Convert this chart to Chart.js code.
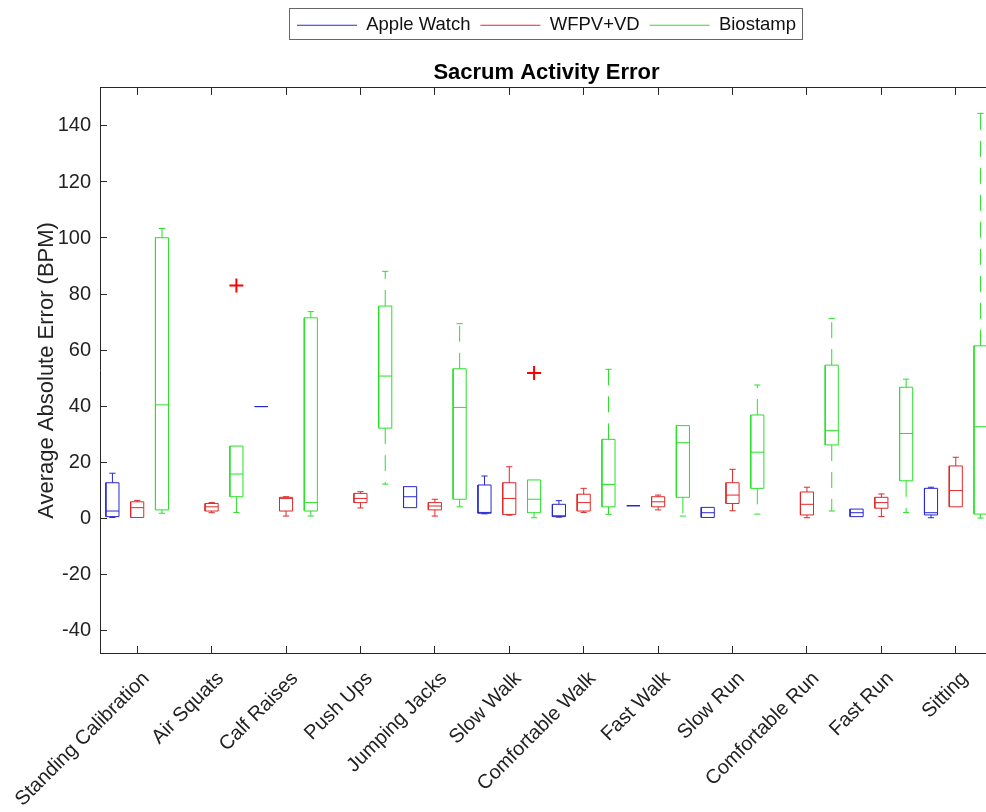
<!DOCTYPE html>
<html>
<head>
<meta charset="utf-8">
<script src="https://cdn.jsdelivr.net/npm/chart.js@4"></script>
<style>
  body { margin: 0; overflow: hidden; background: #fff; }
  #wrap { width: 994px; height: 812px; }
</style>
</head>
<body>
<div id="wrap"><canvas id="chart" width="994" height="812"></canvas></div>
<script>
const categories = ["Standing Calibration", "Air Squats", "Calf Raises", "Push Ups", "Jumping Jacks", "Slow Walk",
  "Comfortable Walk", "Fast Walk", "Slow Run", "Comfortable Run", "Fast Run", "Sitting"];
const yTicks = [-40, -20, 0, 20, 40, 60, 80, 100, 120, 140];

// Apple Watch: lower whisker, q1, median, q3, upper whisker
const watchLo  = [0.2, null, 39.8, null, 3.7, 1.5, 0.3, 4.4, 0.2, null, 0.5, 0.1];
const watchQ1  = [0.5, null, 39.8, null, 3.7, 1.7, 0.5, 4.4, 0.2, null, 0.5, 1.1];
const watchMed = [2.5, null, 39.8, null, 7.6, 2.0, 0.8, 4.4, 1.9, null, 1.9, 1.9];
const watchQ3  = [12.6, null, 39.8, null, 11.2, 11.8, 4.9, 4.4, 3.8, null, 3.2, 10.6];
const watchHi  = [16.0, null, 39.8, null, 11.2, 15.0, 6.2, 4.4, 3.8, null, 3.2, 11.0];

// WFPV+VD
const wfpvLo  = [0.2, 1.9, 0.7, 3.6, 0.7, 1.0, 2.0, 2.9, 2.6, 0.1, 0.5, 4.0];
const wfpvQ1  = [0.2, 2.5, 2.5, 5.5, 2.9, 1.3, 2.5, 4.0, 5.2, 1.1, 3.5, 4.0];
const wfpvMed = [3.7, 4.0, 7.0, 7.0, 4.3, 7.0, 5.5, 5.8, 8.2, 4.9, 5.5, 9.8];
const wfpvQ3  = [5.8, 5.2, 7.4, 8.8, 5.5, 12.6, 8.5, 7.6, 12.6, 9.3, 7.4, 18.6];
const wfpvHi  = [6.3, 5.5, 7.6, 9.4, 6.7, 18.3, 10.6, 8.2, 17.4, 11.0, 8.6, 21.7];
const wfpvOutlierCats = [1, 5];
const wfpvOutlierVals = [83.0, 51.8];

// Biostamp
const bioLo  = [1.7, 2.0, 0.7, 12.1, 4.0, 0.1, 1.3, 0.7, 1.4, 2.5, 2.0, 0.0];
const bioQ1  = [2.9, 7.6, 2.5, 32.1, 6.7, 1.9, 4.0, 7.4, 10.6, 26.1, 13.3, 1.4];
const bioMed = [40.4, 15.7, 5.5, 50.7, 39.5, 6.7, 12.0, 26.9, 23.5, 31.2, 30.2, 32.6];
const bioQ3  = [100.1, 25.7, 71.5, 75.7, 53.3, 13.6, 28.1, 33.0, 36.8, 54.6, 46.7, 61.5];
const bioHi  = [103.4, 25.7, 73.7, 88.1, 69.4, 13.6, 53.1, 33.0, 47.5, 71.3, 49.6, 144.5];

const BLUE = "rgb(40,40,210)";
const RED = "rgb(225,40,40)";
const GREEN = "rgb(40,225,40)";
const AXIS = "#262626";
const BOX_HALF = 0.088;
const CAP_HALF = 0.042;
const SHIFT = 0.333;

Chart.defaults.font.family = '"Liberation Sans", Arial, Helvetica, sans-serif';
Chart.defaults.color = "#222";

// turn five-number arrays into polyline point lists (null y = gap)
function boxParts(lo, q1, med, q3, hi, shift) {
  const boxes = [], medians = [], whiskers = [], caps = [];
  categories.forEach((c, i) => {
    if (q1[i] == null) return;
    const x = i + shift, l = x - BOX_HALF, r = x + BOX_HALF;
    boxes.push({x: l, y: q1[i]}, {x: r, y: q1[i]}, {x: r, y: q3[i]}, {x: l, y: q3[i]}, {x: l, y: q1[i]}, {x: l, y: null});
    medians.push({x: l, y: med[i]}, {x: r, y: med[i]}, {x: r, y: null});
    if (hi[i] > q3[i]) {
      whiskers.push({x: x, y: q3[i]}, {x: x, y: hi[i]}, {x: x, y: null});
      caps.push({x: x - CAP_HALF, y: hi[i]}, {x: x + CAP_HALF, y: hi[i]}, {x: x, y: null});
    }
    if (lo[i] < q1[i]) {
      whiskers.push({x: x, y: q1[i]}, {x: x, y: lo[i]}, {x: x, y: null});
      caps.push({x: x - CAP_HALF, y: lo[i]}, {x: x + CAP_HALF, y: lo[i]}, {x: x, y: null});
    }
  });
  return {boxes, medians, whiskers, caps};
}

const watch = boxParts(watchLo, watchQ1, watchMed, watchQ3, watchHi, -SHIFT);
const wfpv = boxParts(wfpvLo, wfpvQ1, wfpvMed, wfpvQ3, wfpvHi, 0);
const bio = boxParts(bioLo, bioQ1, bioMed, bioQ3, bioHi, SHIFT);

function lineSet(label, data, color, dash) {
  return {
    type: "line", label, data,
    borderColor: color, backgroundColor: color,
    borderWidth: 1, borderDash: dash || [],
    pointRadius: 0, fill: false, tension: 0, spanGaps: false
  };
}

const datasets = [
  lineSet("Apple Watch", watch.boxes, BLUE),
  lineSet("WFPV+VD", wfpv.boxes, RED),
  lineSet("Biostamp", bio.boxes, GREEN)
];
[[watch, BLUE], [wfpv, RED], [bio, GREEN]].forEach(([p, col]) => {
  datasets.push(lineSet("", p.medians, col));
  datasets.push(lineSet("", p.whiskers, col, [16, 11]));
  datasets.push(lineSet("", p.caps, col));
});
datasets.push({
  type: "scatter", label: "",
  data: wfpvOutlierCats.map((c, k) => ({x: c + SHIFT, y: wfpvOutlierVals[k]})),
  pointStyle: "cross", pointRadius: 7, borderWidth: 2,
  borderColor: "rgb(255,0,0)", backgroundColor: "rgb(255,0,0)"
});

// frame round the legend items, like the MATLAB legend box
const legendFrame = {
  id: "legendFrame",
  afterDraw(chart) {
    const hb = chart.legend.legendHitBoxes;
    if (!hb || !hb.length) return;
    const left = Math.min(...hb.map(b => b.left)) - 8;
    const right = Math.max(...hb.map(b => b.left + b.width)) + 6;
    const top = hb[0].top - 8;
    const bottom = hb[0].top + hb[0].height + 4;
    const ctx = chart.ctx;
    ctx.save();
    ctx.strokeStyle = "#666";
    ctx.lineWidth = 1;
    ctx.strokeRect(Math.round(left) + 0.5, Math.round(top) + 0.5, Math.round(right - left), Math.round(bottom - top));
    ctx.restore();
  }
};

const catTicks = s => { s.ticks = categories.map((c, i) => ({value: i})); };

new Chart(document.getElementById("chart"), {
  type: "line",
  data: {datasets},
  plugins: [legendFrame],
  options: {
    responsive: false,
    animation: false,
    events: [],
    // canvas is a little wider than the window so the right edge of the axes is cut off, as in the original
    layout: {autoPadding: false, padding: {top: 6, right: 1, left: 0, bottom: 0}},
    plugins: {
      legend: {
        position: "top",
        fullSize: false,
        weight: 3000,
        labels: {
          filter: item => item.datasetIndex < 3,
          usePointStyle: true,
          pointStyle: "line",
          pointStyleWidth: 60,
          padding: 10,
          color: "#111",
          font: {size: 18.5}
        }
      },
      title: {
        display: true,
        fullSize: false,
        text: "Sacrum Activity Error",
        color: "#000",
        font: {size: 22, weight: "bold"},
        padding: {top: 15, bottom: 2}
      },
      tooltip: {enabled: false}
    },
    scales: {
      x: {
        type: "linear",
        position: "bottom",
        min: -0.5,
        max: 11.5,
        afterBuildTicks: catTicks,
        afterFit: s => { s.height = 159; s.paddingLeft = 0; s.paddingRight = 0; },
        grid: {drawOnChartArea: false, tickLength: -7, color: AXIS},
        border: {color: AXIS, width: 1},
        ticks: {
          autoSkip: false,
          minRotation: 45,
          maxRotation: 45,
          padding: 21,
          labelOffset: 9,
          font: {size: 20},
          color: "#222",
          callback: v => categories[v]
        }
      },
      xTop: {
        type: "linear",
        position: "top",
        min: -0.5,
        max: 11.5,
        afterBuildTicks: catTicks,
        afterFit: s => { s.height = 0; s.paddingLeft = 0; s.paddingRight = 0; },
        grid: {drawOnChartArea: false, tickLength: -7, color: AXIS},
        border: {color: AXIS, width: 1},
        ticks: {display: false}
      },
      y: {
        min: -48.2,
        max: 153.6,
        afterBuildTicks: s => { s.ticks = yTicks.map(v => ({value: v})); },
        afterFit: s => { s.width = 100; },
        grid: {drawOnChartArea: false, tickLength: -7, color: AXIS},
        border: {color: AXIS, width: 1},
        ticks: {padding: 16, font: {size: 20}, color: "#222"},
        title: {
          display: true,
          text: "Average Absolute Error (BPM)",
          color: "#222",
          font: {size: 22},
          padding: {top: 34}
        }
      }
    }
  }
});
</script>
</body>
</html>
